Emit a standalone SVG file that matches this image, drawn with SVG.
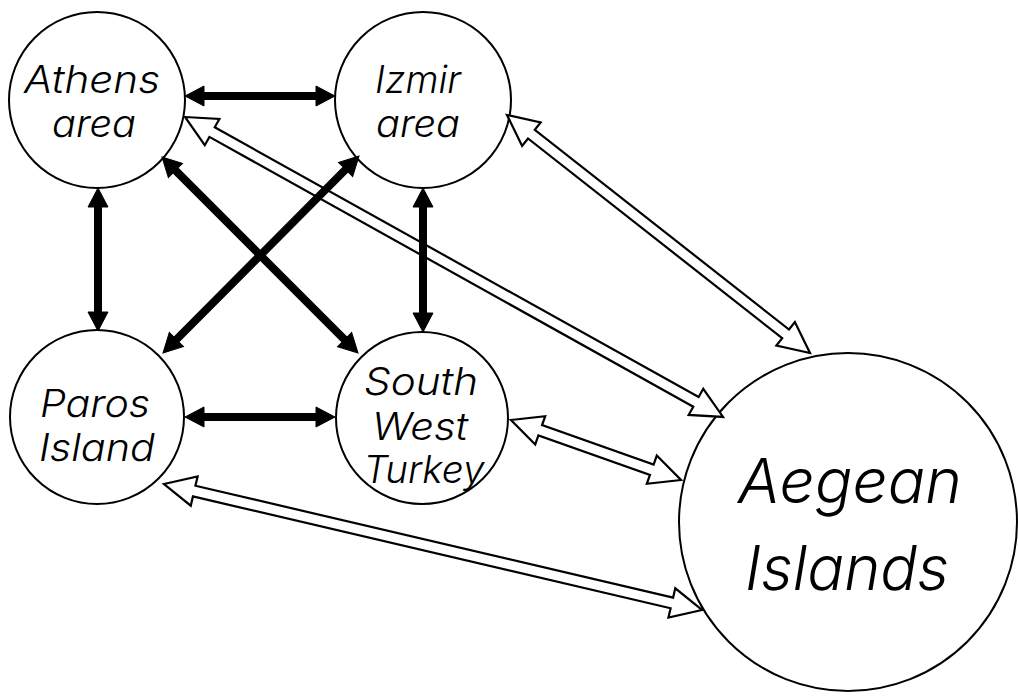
<svg xmlns="http://www.w3.org/2000/svg" width="1018" height="696" viewBox="0 0 1018 696">
<style>
.node{fill:#fff;stroke:#000;stroke-width:2}
.lbl{font-family:Inter,"Liberation Sans",Arial,sans-serif;font-style:italic;font-weight:300;font-size:38px;fill:#000;text-anchor:middle}
.big{font-size:62px}
.open{fill:#fff;stroke:#000;stroke-width:2.2;stroke-linejoin:miter}
.solid{fill:#000;stroke:#000;stroke-width:1}
</style>
<rect width="1018" height="696" fill="#fff"/>
<g id="athens"><circle class="node" cx="97" cy="100" r="88"/>
<text class="lbl" x="92" y="93" textLength="136" lengthAdjust="spacingAndGlyphs">Athens</text>
<text class="lbl" x="94" y="137" textLength="84" lengthAdjust="spacingAndGlyphs">area</text></g>
<g id="izmir"><circle class="node" cx="423" cy="100" r="88"/>
<text class="lbl" x="418" y="93" textLength="86" lengthAdjust="spacingAndGlyphs">Izmir</text>
<text class="lbl" x="418" y="137" textLength="84" lengthAdjust="spacingAndGlyphs">area</text></g>
<g id="paros"><circle class="node" cx="97" cy="417" r="87"/>
<text class="lbl" x="95" y="417" textLength="110" lengthAdjust="spacingAndGlyphs">Paros</text>
<text class="lbl" x="97" y="461" textLength="116" lengthAdjust="spacingAndGlyphs">Island</text></g>
<g id="swturkey"><circle class="node" cx="422" cy="418" r="86"/>
<text class="lbl" x="421" y="395" textLength="114" lengthAdjust="spacingAndGlyphs">South</text>
<text class="lbl" x="420" y="440" textLength="96" lengthAdjust="spacingAndGlyphs">West</text>
<text class="lbl" x="424" y="483" textLength="121" lengthAdjust="spacingAndGlyphs">Turkey</text></g>
<g id="aegean"><circle class="node" cx="848" cy="522" r="169"/>
<text class="lbl big" x="850" y="503" textLength="224" lengthAdjust="spacingAndGlyphs">Aegean</text>
<text class="lbl big" x="847" y="590" textLength="204" lengthAdjust="spacingAndGlyphs">Islands</text></g>
<g id="connectors">
<polygon class="open" transform="translate(507,115) rotate(38.15)" points="0,0 31,-15 31,-5.5 354.3,-5.5 354.3,-15 385.3,0 354.3,15 354.3,5.5 31,5.5 31,15"/>
<polygon class="open" transform="translate(185,117) rotate(29.14)" points="0,0 31,-15 31,-5.5 585,-5.5 585,-15 616,0 585,15 585,5.5 31,5.5 31,15"/>
<polygon class="open" transform="translate(511,420) rotate(19.44)" points="0,0 31,-15 31,-5.5 149.3,-5.5 149.3,-15 180.3,0 149.3,15 149.3,5.5 31,5.5 31,15"/>
<polygon class="open" transform="translate(164,484) rotate(13.18)" points="0,0 31,-15 31,-5.5 521.6,-5.5 521.6,-15 552.6,0 521.6,15 521.6,5.5 31,5.5 31,15"/>
<polygon class="solid" transform="translate(185,96)" points="0,0 19,-10 19,-3.5 131,-3.5 131,-10 150,0 131,10 131,3.5 19,3.5 19,10"/>
<polygon class="solid" transform="translate(185,417)" points="0,0 19,-10 19,-3.5 131,-3.5 131,-10 150,0 131,10 131,3.5 19,3.5 19,10"/>
<polygon class="solid" transform="translate(98,188) rotate(90)" points="0,0 19,-10 19,-3.5 124,-3.5 124,-10 143,0 124,10 124,3.5 19,3.5 19,10"/>
<polygon class="solid" transform="translate(423,188) rotate(90)" points="0,0 19,-10 19,-3.5 125,-3.5 125,-10 144,0 125,10 125,3.5 19,3.5 19,10"/>
<polygon class="solid" transform="translate(162,157) rotate(45)" points="0,0 19,-10 19,-3.5 258.2,-3.5 258.2,-10 277.2,0 258.2,10 258.2,3.5 19,3.5 19,10"/>
<polygon class="solid" transform="translate(359,156) rotate(134.85)" points="0,0 19,-10 19,-3.5 258.9,-3.5 258.9,-10 277.9,0 258.9,10 258.9,3.5 19,3.5 19,10"/>
</g>
</svg>
